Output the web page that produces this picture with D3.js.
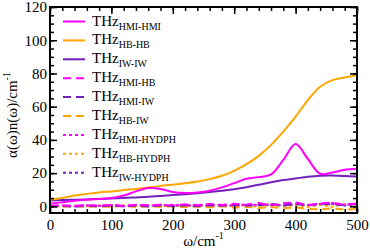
<!DOCTYPE html>
<html>
<head>
<meta charset="utf-8">
<script src="https://cdn.jsdelivr.net/npm/d3@7"></script>
<style>
  body { margin: 0; background: #fff; }
  text { font-family: "Liberation Serif", "DejaVu Serif", serif; }
</style>
</head>
<body>
<div id="chart"></div>
<script>
'use strict';

// frequency grid, cm^-1
var omega = [0, 20, 40, 60, 80, 100, 120, 140, 160, 180, 200, 220, 240, 260, 280, 300, 320, 340, 360, 380, 400, 420, 440, 460, 480, 500];

var hmiHmi  = [1.5, 2.5, 3.4, 4, 4.5, 5, 6.5, 9, 11, 10.5, 8.6, 8, 8.4, 9.4, 11.4, 14, 16.6, 17.6, 19.2, 28, 37.5, 28.5, 19.6, 20.4, 22, 22.6];
var hbHb    = [4, 5, 6.5, 7.5, 8.4, 9, 9.8, 10.5, 11.4, 12.3, 13, 13.9, 15, 16.4, 18.4, 21.4, 25.4, 30.4, 37, 45, 54, 64, 72, 76, 77.5, 79];
var iwIw    = [3.5, 3.8, 4, 4.2, 4.5, 4.8, 5, 5.4, 5.8, 6.3, 6.8, 7.3, 7.9, 8.6, 9.4, 10.3, 11.5, 13, 14.5, 15.8, 16.8, 17.8, 18.4, 18.5, 18.3, 18];
var hmiHb   = [0.4, 0.6, 0.3, 0.7, 0.5, 0.8, 0.4, 0.9, 0.6, 1, 0.5, 1.2, 0.7, 1.4, 0.8, 1.6, 0.9, 2, 0.6, 1.8, 2.4, 0.7, 1.8, 2.3, 0.9, 1.7];
var hmiIw   = [0, 0.2, -0.1, 0.3, 0, 0.4, 0.1, 0.3, -0.1, 0.5, 0.2, 0.6, 0.1, 0.7, 0.3, 0.9, 0.4, 0.8, 1.2, 0.5, 1.4, 0.6, 1.6, 1.2, 0.8, 1.5];
var hbIw    = [0, -0.2, 0.1, -0.3, 0, -0.2, 0.2, -0.4, 0, -0.3, 0.1, -0.5, -0.2, -0.6, 0, -0.8, -0.3, -1, -0.4, -1.2, -0.6, -1.5, -1.8, -1.2, -2, -1.6];
var hmiHydph = [0.2, 0.5, 0.1, 0.6, 0.3, 0.7, 0.2, 0.8, 0.4, 0.6, 0.9, 0.3, 1, 0.5, 1.1, 0.4, 1.3, 0.7, 1.5, 0.6, 1.7, 0.9, 1.4, 2, 1, 1.6];
var hbHydph  = [0.3, 0, 0.4, 0.1, 0.5, -0.1, 0.6, 0.2, 0.4, 0, 0.7, 0.1, 0.6, -0.2, 0.8, 0, 0.9, -0.3, 1, 0.2, 0.7, -0.4, 0.9, -0.2, 1.1, 0.3];
var iwHydph  = [0.1, 0.3, 0, 0.4, 0.2, 0.5, 0, 0.4, 0.2, 0.6, 0.1, 0.7, 0.3, 0.5, 0.8, 0.2, 0.9, 0.4, 1, 0.3, 1.2, 0.6, 0.9, 1.4, 0.5, 1.1];

var legendNames = ["HMI-HMI", "HB-HB", "IW-IW", "HMI-HB", "HMI-IW", "HB-IW", "HMI-HYDPH", "HB-HYDPH", "IW-HYDPH"];
var xTicks = [0, 100, 200, 300, 400, 500];
var yTicks = [0, 20, 40, 60, 80, 100, 120];

var magenta = "#ff00ff", orange = "#ffa500", indigo = "#7221bc";

var series = [
  {name: legendNames[0], values: hmiHmi, color: magenta, dash: null, smooth: true},
  {name: legendNames[1], values: hbHb, color: orange, dash: null, smooth: true},
  {name: legendNames[2], values: iwIw, color: indigo, dash: null, smooth: true},
  {name: legendNames[3], values: hmiHb, color: magenta, dash: "8,5"},
  {name: legendNames[4], values: hmiIw, color: indigo, dash: "8,5"},
  {name: legendNames[5], values: hbIw, color: orange, dash: "8,5"},
  {name: legendNames[6], values: hmiHydph, color: magenta, dash: "3,3"},
  {name: legendNames[7], values: hbHydph, color: orange, dash: "3,3"},
  {name: legendNames[8], values: iwHydph, color: indigo, dash: "3,3"}
];

var margin = {top: 7, right: 13, bottom: 37, left: 50},
  width = 370 - margin.left - margin.right,
  height = 250 - margin.top - margin.bottom;

var svg = d3.select("#chart").append("svg")
  .attr("width", 370)
  .attr("height", 250);

var g = svg.append("g")
  .attr("transform", "translate(" + margin.left + "," + margin.top + ")");

var x = d3.scaleLinear().domain([0, 500]).range([0, width]);
var y = d3.scaleLinear().domain([-4, 120]).range([height, 0]);

g.append("clipPath").attr("id", "clip")
  .append("rect").attr("width", width).attr("height", height);

// lines
var lineSmooth = d3.line()
  .x((d, i) => x(omega[i]))
  .y((d) => y(d))
  .curve(d3.curveCatmullRom.alpha(0.5));
var lineRough = d3.line()
  .x((d, i) => x(omega[i]))
  .y((d) => y(d));

var lines = g.append("g").attr("clip-path", "url(#clip)");
series.slice().reverse().forEach(function(s) {
  lines.append("path")
    .attr("d", (s.smooth ? lineSmooth : lineRough)(s.values))
    .attr("fill", "none")
    .attr("stroke", s.color)
    .attr("stroke-width", 2)
    .attr("stroke-dasharray", s.dash);
});

// ticks, inward on all four sides
function styleAxis(sel) {
  sel.select(".domain").remove();
  sel.selectAll("line").attr("stroke", "#000").attr("stroke-width", 1.5);
  sel.selectAll("text").style("font-size", "15px").attr("fill", "#000");
}
var xMinor = d3.range(0, 501, 20), yMinor = d3.range(0, 121, 5);

g.append("g").attr("transform", "translate(0," + height + ")")
  .call(d3.axisBottom(x).tickValues(xTicks).tickSize(-7).tickPadding(6)).call(styleAxis);
g.append("g").attr("transform", "translate(0," + height + ")")
  .call(d3.axisBottom(x).tickValues(xMinor).tickSize(-4).tickFormat("")).call(styleAxis);
g.append("g")
  .call(d3.axisTop(x).tickValues(xTicks).tickSize(-7).tickFormat("")).call(styleAxis);
g.append("g")
  .call(d3.axisTop(x).tickValues(xMinor).tickSize(-4).tickFormat("")).call(styleAxis);

g.append("g")
  .call(d3.axisLeft(y).tickValues(yTicks).tickSize(-7).tickPadding(3)).call(styleAxis);
g.append("g")
  .call(d3.axisLeft(y).tickValues(yMinor).tickSize(-4).tickFormat("")).call(styleAxis);
g.append("g").attr("transform", "translate(" + width + ",0)")
  .call(d3.axisRight(y).tickValues(yTicks).tickSize(-7).tickFormat("")).call(styleAxis);
g.append("g").attr("transform", "translate(" + width + ",0)")
  .call(d3.axisRight(y).tickValues(yMinor).tickSize(-4).tickFormat("")).call(styleAxis);

g.append("rect")
  .attr("width", width).attr("height", height)
  .attr("fill", "none").attr("stroke", "#000").attr("stroke-width", 2);

// legend
var legend = g.selectAll(".legend")
  .data(series)
  .enter().append("g")
  .attr("class", "legend")
  .attr("transform", (d, i) => "translate(13," + (14.5 + i * 18.9) + ")");

legend.append("line")
  .attr("x1", 0).attr("x2", 22)
  .attr("stroke", (d) => d.color)
  .attr("stroke-width", 2)
  .attr("stroke-dasharray", (d) => d.dash);

var lt = legend.append("text")
  .attr("x", 29).attr("y", 4)
  .style("font-size", "15px");
lt.append("tspan").text("THz");
lt.append("tspan").attr("dy", 4).style("font-size", "10px").text((d) => d.name);

// axis titles
var xt = svg.append("text")
  .attr("x", margin.left + width / 2)
  .attr("y", 246)
  .attr("text-anchor", "middle")
  .style("font-size", "15px");
xt.append("tspan").text("ω/cm");
xt.append("tspan").attr("dy", -7).style("font-size", "10px").text("-1");

var yt = svg.append("text")
  .attr("transform", "translate(17," + (margin.top + 108) + ") rotate(-90)")
  .attr("text-anchor", "middle")
  .style("font-size", "15px");
yt.append("tspan").text("α(ω)n(ω)/cm");
yt.append("tspan").attr("dy", -7).style("font-size", "10px").text("-1");
</script>
</body>
</html>
